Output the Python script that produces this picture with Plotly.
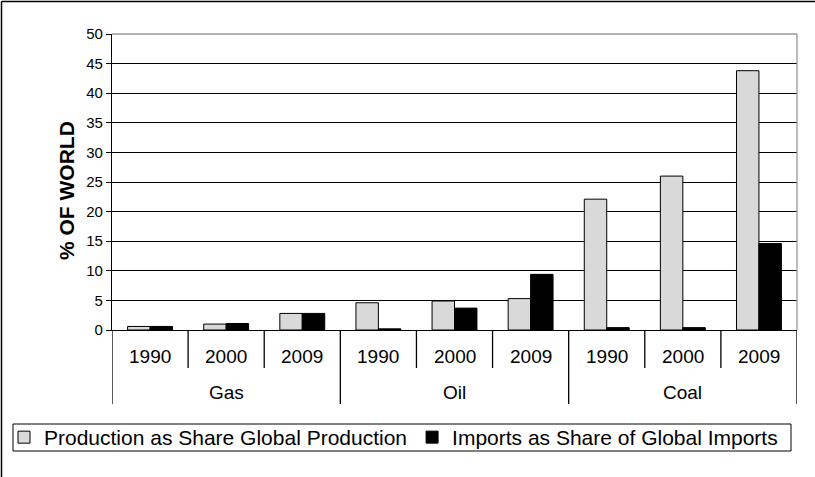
import plotly.graph_objects as go

groups = ["Gas", "Oil", "Coal"]
years = ["1990", "2000", "2009"]
production = [0.6, 1.0, 2.8, 4.6, 4.9, 5.3, 22.1, 26.0, 43.8]
imports = [0.6, 1.1, 2.8, 0.2, 3.7, 9.4, 0.4, 0.4, 14.6]
y_ticks = [0, 5, 10, 15, 20, 25, 30, 35, 40, 45, 50]

W, H = 815, 477
ML, MR, MT, MB = 112, 18, 34, 147
PW, PH = W - ML - MR, H - MT - MB

def px_x(p):
    return (p - ML) / PW

def px_y(p):
    return (H - MB - p) / PH

n_years = len(years)
xs = list(range(len(groups) * n_years))

fig = go.Figure()
fig.add_trace(go.Bar(x=xs, y=production, name="Production as Share Global Production",
                     marker=dict(color="#d9d9d9", line=dict(color="black", width=1))))
fig.add_trace(go.Bar(x=xs, y=imports, name="Imports as Share of Global Imports",
                     marker=dict(color="black", line=dict(color="black", width=1))))

shapes = []
annotations = []
font = "Arial, Liberation Sans, sans-serif"
for gi, g in enumerate(groups):
    for yi, yr in enumerate(years):
        i = gi * n_years + yi
        annotations.append(dict(x=i, y=px_y(356), xref="x", yref="paper", text=yr,
                                showarrow=False, font=dict(size=19, color="black", family=font),
                                xanchor="center", yanchor="middle"))
        if yi < n_years - 1:
            shapes.append(dict(type="line", xref="x", yref="paper", x0=i + 0.5, x1=i + 0.5,
                               y0=0, y1=px_y(368), line=dict(color="black", width=1.3)))
    annotations.append(dict(x=gi * n_years + (n_years - 1) / 2, y=px_y(392), xref="x", yref="paper",
                            text=g, showarrow=False, font=dict(size=19, color="black", family=font),
                            xanchor="center", yanchor="middle"))
for b in range(len(groups) + 1):
    xb = b * n_years - 0.5
    shapes.append(dict(type="line", xref="x", yref="paper", x0=xb, x1=xb,
                       y0=0, y1=px_y(404), line=dict(color="black", width=1.3)))

# plot-area border (top and right, gray)
shapes.append(dict(type="line", xref="paper", yref="paper", x0=0, x1=1, y0=1, y1=1,
                   line=dict(color="#999999", width=1.3)))
shapes.append(dict(type="line", xref="paper", yref="paper", x0=1, x1=1, y0=0, y1=1,
                   line=dict(color="#999999", width=1.3)))
# outer chart border (top and left edges visible)
shapes.append(dict(type="line", xref="paper", yref="paper", x0=px_x(1.5), x1=px_x(815),
                   y0=px_y(1.5), y1=px_y(1.5), line=dict(color="black", width=1.5)))
shapes.append(dict(type="line", xref="paper", yref="paper", x0=px_x(1.5), x1=px_x(1.5),
                   y0=px_y(1.5), y1=px_y(477), line=dict(color="black", width=1.5)))
# legend frame
shapes.append(dict(type="rect", xref="paper", yref="paper", x0=px_x(13), x1=px_x(791),
                   y0=px_y(451), y1=px_y(424), line=dict(color="black", width=1)))

annotations.append(dict(x=px_x(66), y=px_y(191), xref="paper", yref="paper", text="<b>% OF WORLD</b>",
                        textangle=-90, showarrow=False, font=dict(size=21, color="black", family=font),
                        xanchor="center", yanchor="middle"))

fig.update_layout(
    width=W, height=H,
    margin=dict(l=ML, r=MR, t=MT, b=MB, autoexpand=False),
    paper_bgcolor="white", plot_bgcolor="white",
    barmode="group", bargap=0.41, bargroupgap=0,
    font=dict(family=font, color="black"),
    shapes=shapes, annotations=annotations,
    showlegend=True,
    legend=dict(orientation="h", x=px_x(4), y=px_y(437.5), xanchor="left", yanchor="middle",
                borderwidth=0, bgcolor="rgba(0,0,0,0)", font=dict(size=21, color="black", family=font),
                itemwidth=30, tracegroupgap=0),
    xaxis=dict(range=[-0.5, len(xs) - 0.5], showticklabels=False, ticks="", showgrid=False,
               showline=True, linecolor="black", linewidth=1.3, zeroline=False, fixedrange=True),
    yaxis=dict(range=[0, 50], tickvals=y_ticks, ticks="outside", ticklen=5, tickcolor="black",
               showline=True, linecolor="black", linewidth=1.3, showgrid=True, gridcolor="black",
               gridwidth=1, zeroline=False, tickfont=dict(size=15, color="black", family=font)),
)

fig.write_html("out.html", config={"displayModeBar": False},
               post_script="document.body.style.margin='0px';document.body.style.overflow='hidden';")
